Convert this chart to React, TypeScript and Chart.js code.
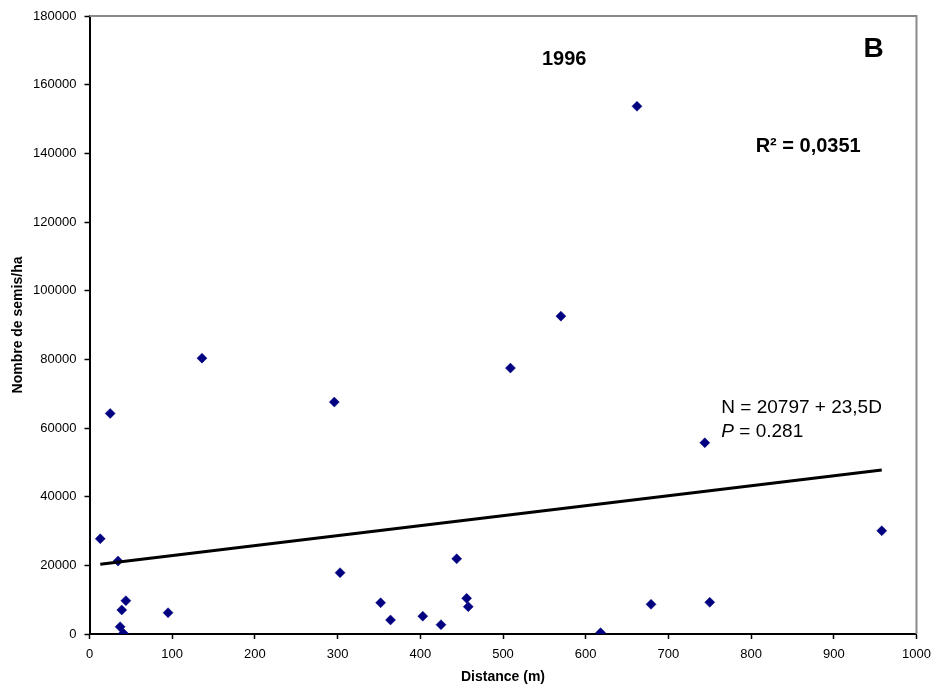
import React, { useEffect, useRef } from "react";
import { Chart, registerables } from "chart.js";

Chart.register(...registerables);

const distances = [13, 25, 34.5, 44, 39, 37, 41, 95, 136, 296, 303, 352, 364, 403, 425, 444, 456, 458, 509, 570, 618, 662, 679, 744, 750, 958];
const seedlings = [27740, 64250, 21250, 9700, 7000, 2100, 200, 6200, 80350, 67540, 17850, 9100, 4100, 5200, 2700, 21900, 10400, 7950, 77440, 92580, 380, 153700, 8650, 55700, 9230, 30070];
const trendX = [13, 958];
const trendY = [20290, 47740];

const yearLabel = "1996";
const panelLabel = "B";
const r2Label = "R² = 0,0351";
const eqLabel = "N = 20797 + 23,5D";
const pLabel = "0.281";

const FONT = "'Liberation Sans', Arial, sans-serif";

const annotations = {
  id: "annotations",
  beforeDatasetsDraw(chart: any) {
    const { ctx, chartArea } = chart;
    ctx.save();
    ctx.strokeStyle = "#8a8a8a";
    ctx.lineWidth = 2;
    ctx.beginPath();
    ctx.moveTo(chartArea.left, chartArea.top);
    ctx.lineTo(chartArea.right, chartArea.top);
    ctx.lineTo(chartArea.right, chartArea.bottom);
    ctx.stroke();
    ctx.restore();
  },
  afterDatasetsDraw(chart: any) {
    const { ctx } = chart;
    const xs = chart.scales.x;
    const ys = chart.scales.y;
    const px = (v: number) => xs.getPixelForValue(v);
    const py = (v: number) => ys.getPixelForValue(v);
    ctx.save();
    ctx.fillStyle = "#000";
    ctx.textAlign = "center";
    ctx.textBaseline = "middle";
    ctx.font = `bold 20px ${FONT}`;
    ctx.fillText(yearLabel, px(574), py(167300));
    ctx.font = `bold 28px ${FONT}`;
    ctx.fillText(panelLabel, px(948), py(170300));
    ctx.font = `bold 20px ${FONT}`;
    ctx.fillText(r2Label, px(869), py(142000));
    ctx.textAlign = "left";
    ctx.textBaseline = "alphabetic";
    ctx.font = `19px ${FONT}`;
    ctx.fillText(eqLabel, px(764), py(64250));
    ctx.font = `italic 19px ${FONT}`;
    const x0 = px(764);
    const yb = py(57440);
    ctx.fillText("P", x0, yb);
    const wP = ctx.measureText("P").width;
    ctx.font = `19px ${FONT}`;
    ctx.fillText(" = " + pLabel, x0 + wP, yb);
    ctx.restore();
  },
};

export default function App() {
  const canvasRef = useRef<HTMLCanvasElement | null>(null);

  useEffect(() => {
    if (!canvasRef.current) return;
    const points = distances.map((d, i) => ({ x: d, y: seedlings[i] }));
    const trend = trendX.map((d, i) => ({ x: d, y: trendY[i] }));
    const chart = new Chart(canvasRef.current, {
      type: "scatter",
      data: {
        datasets: [
          {
            type: "line",
            data: trend,
            borderColor: "#000",
            borderWidth: 3,
            pointRadius: 0,
            fill: false,
            order: 0,
          } as any,
          {
            data: points,
            pointStyle: "rectRot",
            pointRadius: 5,
            pointBackgroundColor: "#000080",
            pointBorderColor: "#000080",
            pointBorderWidth: 0.5,
            order: 1,
          },
        ],
      },
      options: {
        animation: false,
        responsive: false,
        maintainAspectRatio: false,
        layout: { autoPadding: false, padding: { top: 16, right: 19.5, left: 0, bottom: 0 } },
        plugins: { legend: { display: false }, tooltip: { enabled: false } },
        scales: {
          x: {
            type: "linear",
            min: 0,
            max: 1000,
            ticks: {
              stepSize: 100,
              color: "#000",
              font: { family: FONT, size: 13 },
              padding: 8,
              callback: (v: any) => String(v),
            },
            grid: { drawOnChartArea: false, tickLength: 5, tickColor: "#000", tickWidth: 1.5 },
            border: { color: "#000", width: 2 },
            title: {
              display: true,
              text: "Distance (m)",
              color: "#000",
              font: { family: FONT, size: 14, weight: "bold" },
              padding: { top: 4, bottom: 3 },
            },
            afterFit: (s: any) => {
              s.height = 55;
              s.paddingRight = 0;
              s.paddingLeft = 0;
            },
          },
          y: {
            type: "linear",
            min: 0,
            max: 180000,
            ticks: {
              stepSize: 20000,
              color: "#000",
              font: { family: FONT, size: 13 },
              padding: 8,
              callback: (v: any) => String(v),
            },
            grid: { drawOnChartArea: false, tickLength: 5, tickColor: "#000", tickWidth: 1.5 },
            border: { color: "#000", width: 2 },
            title: {
              display: true,
              text: "Nombre de semis/ha",
              color: "#000",
              font: { family: FONT, size: 14, weight: "bold" },
              padding: { top: 10, bottom: 4 },
            },
            afterFit: (s: any) => {
              s.width = 89.5;
            },
          },
        },
      },
      plugins: [annotations],
    });
    return () => chart.destroy();
  }, []);

  return (
    <div style={{ position: "fixed", left: 0, top: 0, width: 936, height: 689, background: "#fff" }}>
      <canvas ref={canvasRef} width={936} height={689} style={{ width: 936, height: 689 }} />
    </div>
  );
}
